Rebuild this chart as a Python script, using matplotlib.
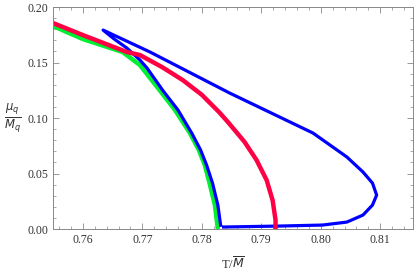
import matplotlib.pyplot as plt
from matplotlib.ticker import MultipleLocator, FormatStrFormatter

# green curve
green_t = [0.7550, 0.7600, 0.7667, 0.7696, 0.7729, 0.7755, 0.7780, 0.7795,
           0.7805, 0.7813, 0.7822, 0.7827]
green_mu = [0.1829, 0.1712, 0.1595, 0.1477, 0.1252, 0.1072, 0.0865, 0.0712,
            0.0577, 0.0414, 0.0216, 0.0000]

# red curve
red_t = [0.7550, 0.7600, 0.7674, 0.7696, 0.7733, 0.7768, 0.7800, 0.7829,
         0.7844, 0.7872, 0.7892, 0.7909, 0.7919, 0.7924, 0.7924]
red_mu = [0.1856, 0.1748, 0.1595, 0.1568, 0.1460, 0.1342, 0.1210, 0.1054,
          0.0964, 0.0784, 0.0622, 0.0441, 0.0261, 0.0081, 0.0000]

# blue curve: lower branch up to the tip, upper branch out to the nose, back along the bottom
blue_t = [0.7832, 0.7827, 0.7818, 0.7808, 0.7798, 0.7783, 0.7760, 0.7734,
          0.7708, 0.7696, 0.7674, 0.7652, 0.7634,
          0.7713, 0.7780, 0.7847, 0.7931, 0.7987, 0.8044, 0.8071, 0.8087,
          0.8094, 0.8087, 0.8071, 0.8044, 0.8003, 0.7931, 0.7834]
blue_mu = [0.0020, 0.0216, 0.0414, 0.0577, 0.0712, 0.0865, 0.1072, 0.1252,
           0.1450, 0.1523, 0.1631, 0.1715, 0.1793,
           0.1595, 0.1410, 0.1225, 0.1009, 0.0865, 0.0649, 0.0514, 0.0414,
           0.0306, 0.0216, 0.0126, 0.0063, 0.0036, 0.0027, 0.0018]

plt.rcParams['font.family'] = 'Liberation Serif'

fig = plt.figure(figsize=(4.15, 2.73), dpi=100)
ax = fig.add_axes([0.128, 0.161, 0.867, 0.813])

ax.plot(green_t, green_mu, color='#00ee33', lw=3.2, solid_capstyle='butt', solid_joinstyle='round')
ax.plot(blue_t, blue_mu, color='#0000ff', lw=2.3, solid_capstyle='butt', solid_joinstyle='round')
ax.plot(red_t, red_mu, color='#ff0044', lw=3.2, solid_capstyle='butt', solid_joinstyle='round')

ax.set_xlim(0.755, 0.8155)
ax.set_ylim(0.0, 0.20)

ax.xaxis.set_major_locator(MultipleLocator(0.01))
ax.xaxis.set_minor_locator(MultipleLocator(0.002))
ax.yaxis.set_major_locator(MultipleLocator(0.05))
ax.yaxis.set_minor_locator(MultipleLocator(0.01))
ax.xaxis.set_major_formatter(FormatStrFormatter('%.2f'))
ax.yaxis.set_major_formatter(FormatStrFormatter('%.2f'))

ax.tick_params(which='both', direction='in', top=True, right=True,
               color='#888888', labelcolor='#333333', labelsize=8.5)
ax.tick_params(which='major', length=4, width=0.6)
ax.tick_params(which='minor', length=2, width=0.5)
for s in ax.spines.values():
    s.set_color('#888888')
    s.set_linewidth(0.7)

ax.set_xlabel(r'T/$\overline{M}$', fontsize=9, color='#333333', labelpad=7)
ax.set_ylabel(r'$\frac{\mu_q}{M_q}$', fontsize=12, rotation=0, color='#333333',
              ha='center', va='center')
ax.yaxis.set_label_coords(-0.112, 0.5)

fig.savefig('out.png', dpi=100)
